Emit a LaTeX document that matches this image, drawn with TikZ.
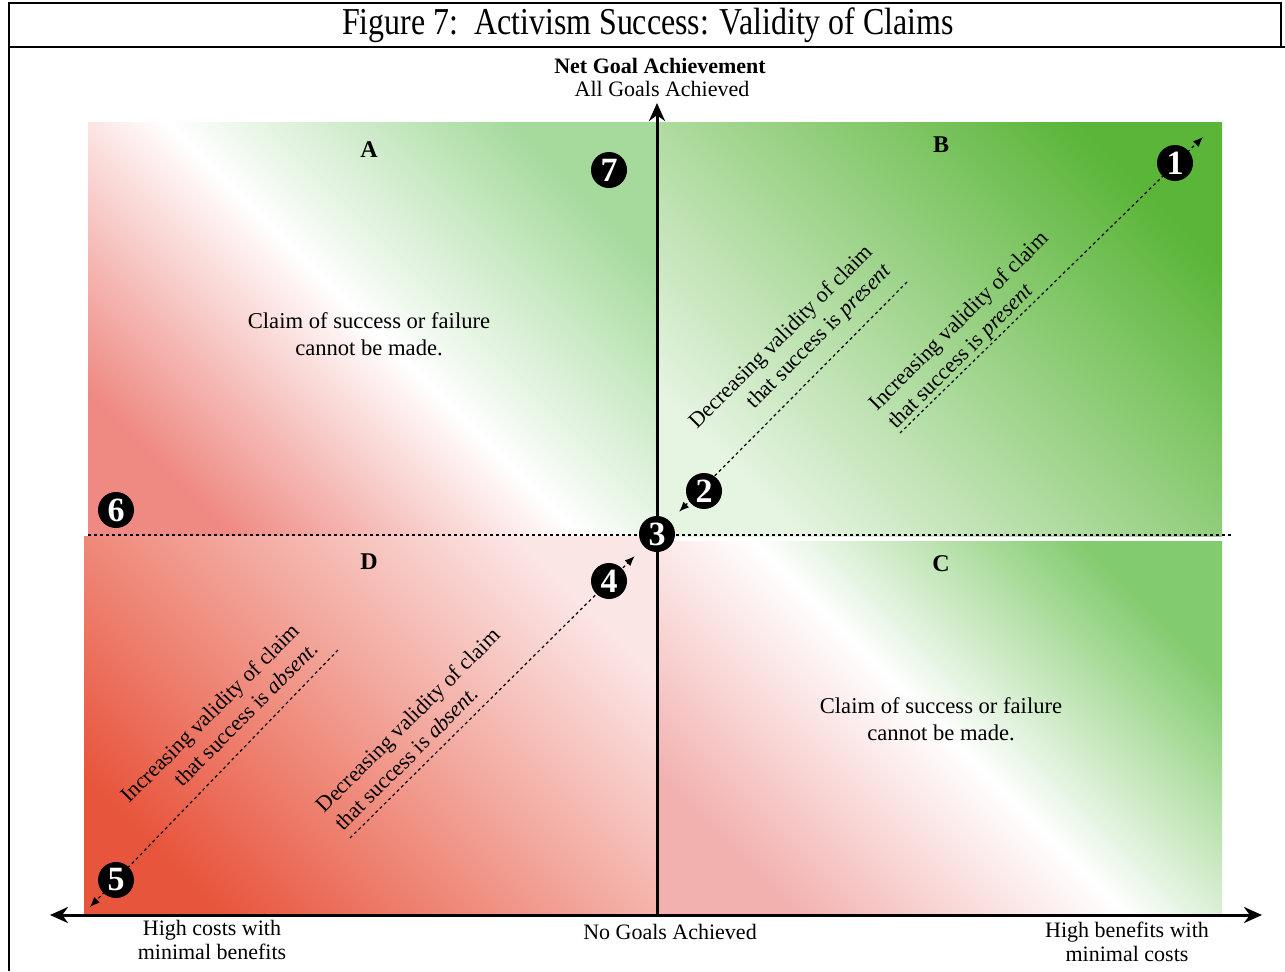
\documentclass[tikz,border=0pt]{standalone}
\usepackage{fontspec}
\setmainfont{Liberation Serif}
\usetikzlibrary{arrows.meta}
\definecolor{redD}{HTML}{E8553D}
\definecolor{pinkD}{HTML}{FBE6E6}
\definecolor{redA}{HTML}{EF8A83}
\definecolor{greenA}{HTML}{A5DA9C}
\definecolor{paleB}{HTML}{E6F4E2}
\definecolor{greenB}{HTML}{5AB538}
\definecolor{pinkC}{HTML}{F2B1AF}
\definecolor{greenC}{HTML}{82CB6E}
\pgfdeclarelayer{shade}
\pgfdeclarelayer{lines}
\pgfsetlayers{shade,lines,main}

\begin{document}
\begin{tikzpicture}
      [
      x=0.5pt,y=-0.5pt,
      marker/.style={circle,fill=black,text=white,inner sep=0pt,minimum size=18pt,font=\fontsize{17}{17}\selectfont\bfseries},
      quadrant/.style={font=\fontsize{12}{14}\selectfont\bfseries},
      claim/.style={align=center,font=\fontsize{11.3}{13.5}\selectfont},
      label/.style={align=center,font=\fontsize{11}{12}\selectfont},
      note/.style={rotate=45,font=\fontsize{11}{13}\selectfont},
      axis/.style={line width=1.5pt,>={Stealth[length=9pt,width=8pt]}},
      guide/.style={line width=0.6pt,dash pattern=on 1.5pt off 1.5pt,>={Latex[length=5pt,width=4pt]}},
      frame/.style={line width=1pt}
      ]
      \useasboundingbox (0,0) rectangle (1285,971);
      % title box
      \draw [frame] (9,971) -- (9,3) -- (1281,3) -- (1281,47);
      \draw [frame] (9,47) -- (1285,47);
      \node (title) at (648,25) [xscale=0.84,font=\fontsize{19}{22}\selectfont] {Figure 7:\enspace Activism Success: Validity of Claims};
      % quadrant shading
      \begin{pgfonlayer}{shade}
        \shade [bottom color=redA,top color=greenA,middle color=white,shading angle=-45] (88,122) rectangle (657,536);
        \shade [bottom color=paleB,top color=greenB,shading angle=-45] (657,122) rectangle (1222,536);
        \shade [bottom color=pinkC,top color=greenC,middle color=white,shading angle=-45] (657,541) rectangle (1222,915);
        \shade [bottom color=redD,top color=pinkD,shading angle=-45] (84,536) rectangle (657,915);
      \end{pgfonlayer}
      % markers
      \node (1) at (1175,163) [marker] {1};
      \node (2) at (704,491) [marker] {2};
      \node (3) at (657,534) [marker] {3};
      \node (4) at (609,581) [marker] {4};
      \node (5) at (116,880) [marker] {5};
      \node (6) at (116,510) [marker] {6};
      \node (7) at (609,170) [marker] {7};
      \node (A) at (369,150) [quadrant] {A};
      \node (B) at (941,145) [quadrant] {B};
      \node (C) at (941,564) [quadrant] {C};
      \node (D) at (369,562) [quadrant] {D};
      % axes and guides
      \coordinate (north) at (657,103);
      \coordinate (south) at (657,915);
      \coordinate (west) at (50,915);
      \coordinate (east) at (1262,915);
      \coordinate (hw) at (88,535);
      \coordinate (he) at (1232,535);
      \coordinate (ne) at (1203,137);
      \coordinate (sw) at (90,907);
      \coordinate (bdec) at (907,282);
      \coordinate (binc) at (900,433);
      \coordinate (dinc) at (338,650);
      \coordinate (ddec) at (350,838);
      \begin{pgfonlayer}{lines}
        \draw [axis,->] (south) -- (north);
        \draw [axis,<->] (west) -- (east);
        \draw [guide] (hw) -- (he);
        \draw [guide,->,shorten >=6.5pt] (bdec) -- (3);
        \draw [guide,->] (binc) -- (ne);
        \draw [guide,->] (dinc) -- (sw);
        \draw [guide,->,shorten >=6.5pt] (ddec) -- (3);
      \end{pgfonlayer}
      % texts
      \node (goal) at (660,66) [font=\fontsize{11}{12}\selectfont\bfseries] {Net Goal Achievement};
      \node (all) at (662,89) [label] {All Goals Achieved};
      \node (none) at (670,932) [label] {No Goals Achieved};
      \node (costs) at (212,940) [label] {High costs with\\minimal benefits};
      \node (benefits) at (1127,942) [label] {High benefits with\\minimal costs};
      \node (claimA) at (369,334) [claim] {Claim of success or failure\\cannot be made.};
      \node (claimC) at (941,719) [claim] {Claim of success or failure\\cannot be made.};
      \node (decP) at (791,347) [note,align=right] {Decreasing validity of claim\\that success is \textit{present}};
      \node (incP) at (969,331) [note,align=left] {Increasing validity of claim\\that success is \textit{present}};
      \node (incA) at (219,722) [note,align=right] {Increasing validity of claim\\that success is \textit{absent}.};
      \node (decA) at (417,729) [note,align=left] {Decreasing validity of claim\\that success is \textit{absent}.};
    \end{tikzpicture}
\end{document}
